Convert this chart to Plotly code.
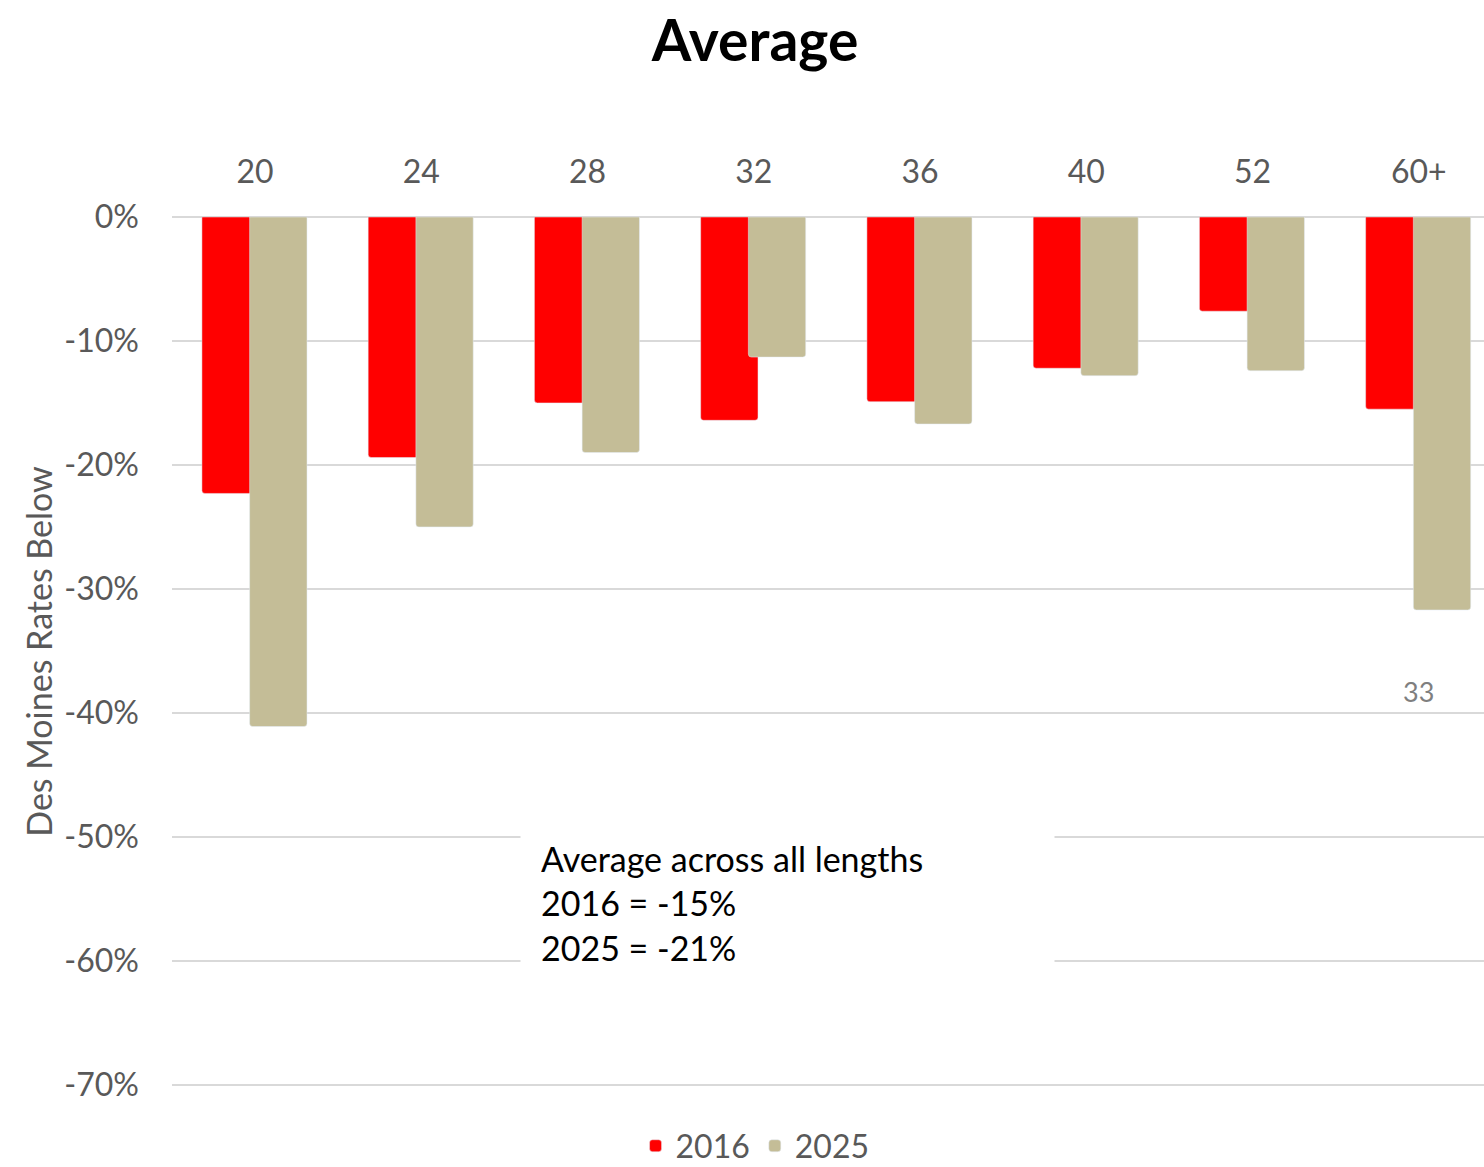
import plotly.graph_objects as go

# Des Moines rate difference by length
lengths = ['20', '24', '28', '32', '36', '40', '52', '60+']
rates_2016 = [-0.223, -0.194, -0.150, -0.164, -0.149, -0.122, -0.076, -0.155]
rates_2025 = [-0.411, -0.250, -0.190, -0.113, -0.167, -0.128, -0.124, -0.317]

y_tick_vals = [0, -0.1, -0.2, -0.3, -0.4, -0.5, -0.6, -0.7]
y_tick_text = ['0%', '-10%', '-20%', '-30%', '-40%', '-50%', '-60%', '-70%']

avg_2016 = '-15%'
avg_2025 = '-21%'
label_60_value = '33'
label_60_y = -0.383

FONT = 'Lato'
GRAY = '#595959'
RED = '#FF0000'
TAN = '#C4BD97'

W, H = 1484, 1167

fig = go.Figure()

fig.add_trace(go.Bar(
    x=lengths, y=rates_2016, name='2016',
    marker=dict(color=RED, cornerradius=3),
    width=0.345, offset=-0.32,
))
fig.add_trace(go.Bar(
    x=lengths, y=rates_2025, name='2025',
    marker=dict(color=TAN, cornerradius=3),
    width=0.345, offset=-0.033,
))

fig.add_annotation(
    x=0.2652, y=0.2106, xref='paper', yref='paper',
    xanchor='left', yanchor='middle',
    text=f'Average across all lengths<br>2016 = {avg_2016}<br>2025 = {avg_2025}',
    align='left', showarrow=False,
    font=dict(family=FONT, size=34, color='black'),
    bgcolor='white', width=493, height=140, borderpad=20,
)

fig.add_annotation(
    x='60+', y=label_60_y, xref='x', yref='y',
    text=label_60_value, showarrow=False,
    font=dict(family=FONT, size=27, color='#7F7F7F'),
)

fig.update_layout(
    width=W, height=H,
    margin=dict(l=172, r=0, t=217, b=81, autoexpand=False),
    paper_bgcolor='white', plot_bgcolor='white',
    barmode='overlay',
    title=dict(
        text='<b>Average</b>', x=755 / W, xanchor='center',
        y=1 - 41 / H, yanchor='middle', yref='container',
        font=dict(family=FONT, size=57, color='black'),
    ),
    legend=dict(
        orientation='h', x=0.4444, xanchor='center',
        y=-0.069, yanchor='middle',
        font=dict(family=FONT, size=32, color=GRAY),
        itemwidth=30, traceorder='normal',
    ),
    xaxis=dict(
        side='top', range=[-0.5, 7.392],
        showgrid=False, showline=False, ticks='',
        tickfont=dict(family=FONT, size=32, color=GRAY),
        ticklabelstandoff=27,
    ),
    yaxis=dict(
        range=[-0.701, 0], tickvals=y_tick_vals, ticktext=y_tick_text,
        showgrid=True, gridcolor='#D9D9D9', gridwidth=2,
        zeroline=True, zerolinecolor='#D9D9D9', zerolinewidth=2,
        showline=False, ticks='',
        tickfont=dict(family=FONT, size=32, color=GRAY),
        ticklabelstandoff=32,
        title=dict(text='Des Moines Rates Below', standoff=1,
                   font=dict(family=FONT, size=34, color=GRAY)),
    ),
)

# drop the default 8px body margin so the figure fills the window exactly
fig.write_html('out.html', config={'displayModeBar': False},
               post_script="document.body.style.margin='0';")
